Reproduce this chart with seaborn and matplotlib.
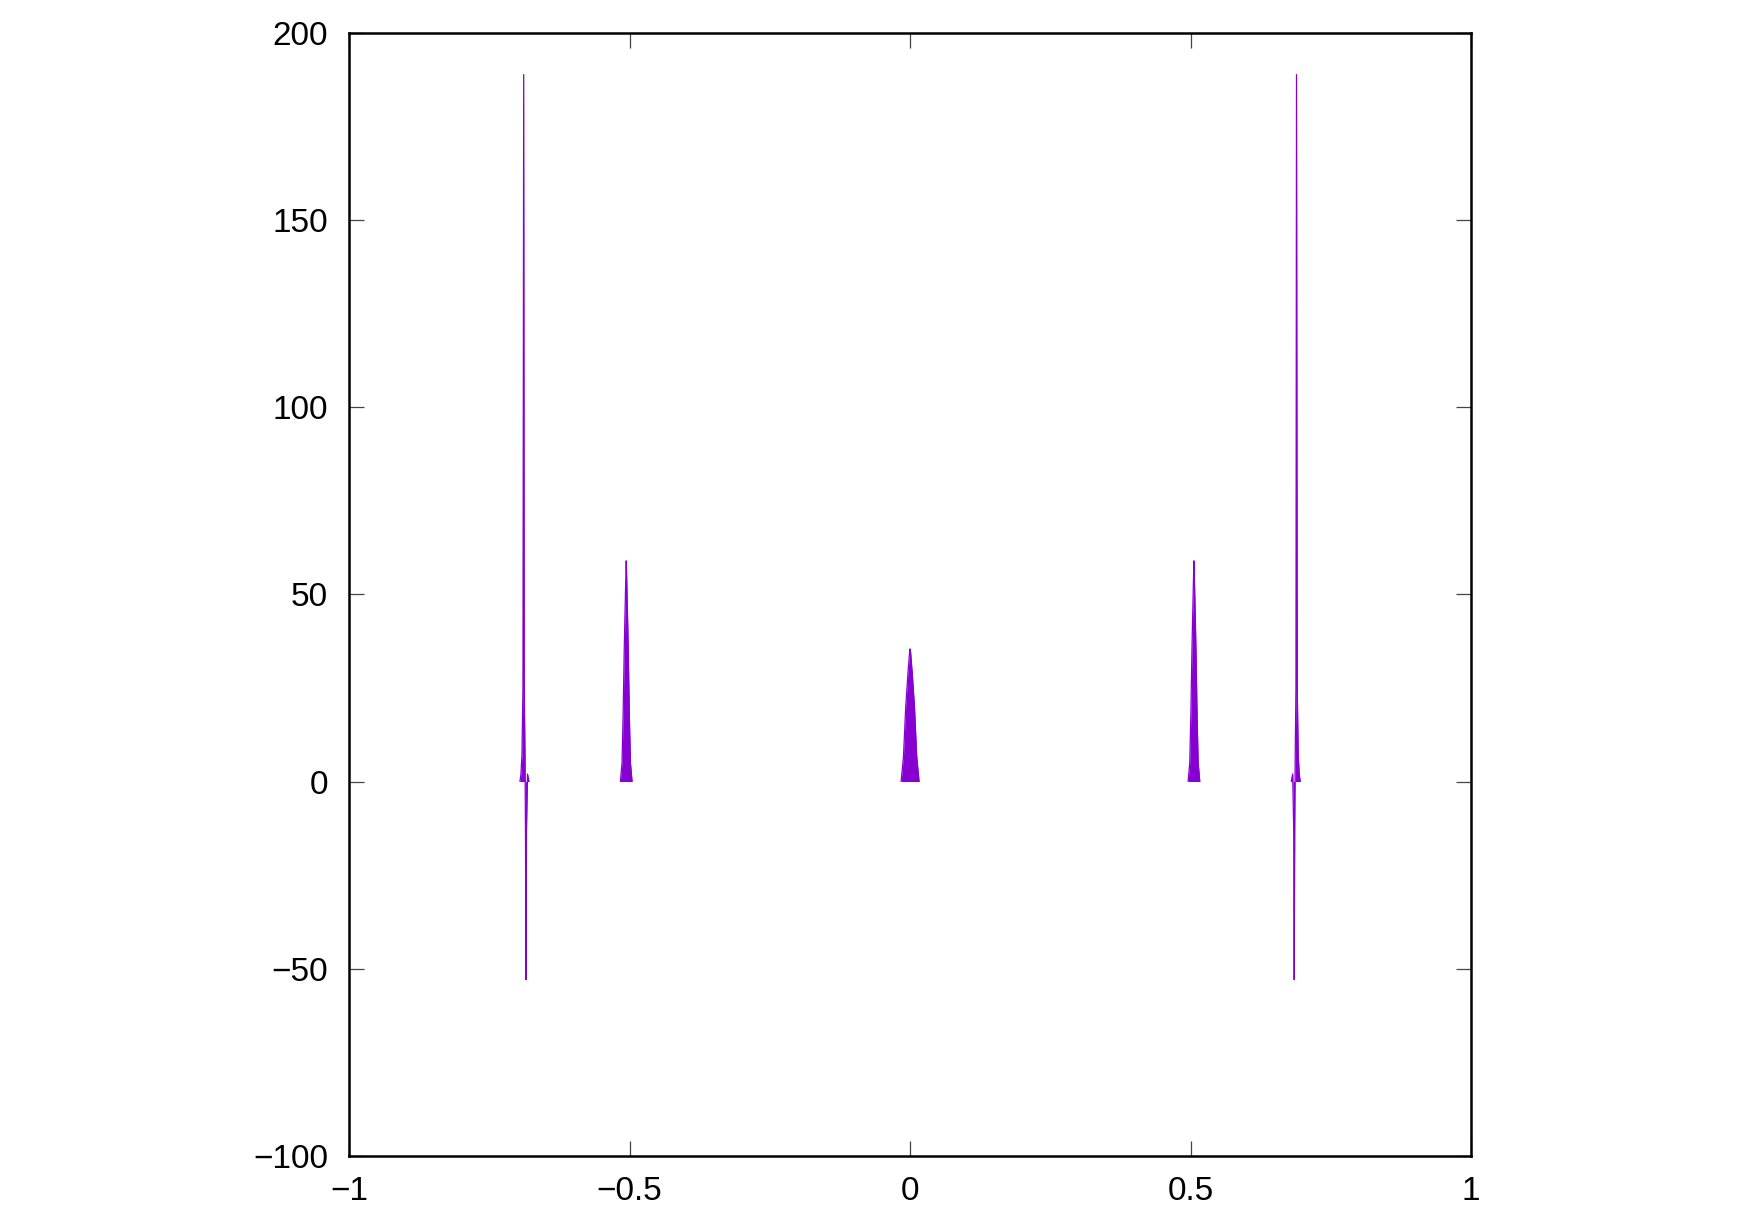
import matplotlib
matplotlib.use("Agg")
import matplotlib.pyplot as plt
import seaborn as sns
import pandas as pd

# ---- data ----
# left outer spike (positive and negative lobes)
outer_left_x = [-0.6954, -0.6937, -0.6919, -0.6901, -0.6888, -0.6878, -0.6865,
                -0.6856, -0.6847, -0.6838, -0.6820, -0.6794]
outer_left_y = [0, 2, 7, 25, 189, 25, 7, -13, -53, -13, 2, 0]
# left middle spike
mid_left_x = [-0.5164, -0.5135, -0.5116, -0.5096, -0.5085, -0.5061, -0.5059,
              -0.5035, -0.5024, -0.5004, -0.4985, -0.4956]
mid_left_y = [0, 5, 17.4, 35, 43, 59, 59, 43, 35, 17.4, 5, 0]
# centre spike
centre_x = [-0.0160, -0.0118, -0.0078, -0.0038, -0.0004, 0.0004, 0.0038,
            0.0078, 0.0118, 0.0160]
centre_y = [0, 6.7, 20, 29, 35.4, 35.4, 29, 20, 6.7, 0]
# right middle spike
mid_right_x = [0.4956, 0.4985, 0.5004, 0.5024, 0.5035, 0.5059, 0.5061, 0.5085,
               0.5096, 0.5116, 0.5135, 0.5164]
mid_right_y = [0, 5, 17.4, 35, 43, 59, 59, 43, 35, 17.4, 5, 0]
# right outer spike
outer_right_x = [0.6794, 0.6820, 0.6838, 0.6847, 0.6856, 0.6865, 0.6878,
                 0.6888, 0.6901, 0.6919, 0.6937, 0.6954]
outer_right_y = [0, 2, -13, -53, -13, 7, 25, 189, 25, 7, 2, 0]

x_ticks = [-1, -0.5, 0, 0.5, 1]
x_tick_labels = ["\u22121", "\u22120.5", "0", "0.5", "1"]
y_ticks = [-100, -50, 0, 50, 100, 150, 200]
y_tick_labels = ["\u2212100", "\u221250", "0", "50", "100", "150", "200"]

spikes = [
    (outer_left_x, outer_left_y),
    (mid_left_x, mid_left_y),
    (centre_x, centre_y),
    (mid_right_x, mid_right_y),
    (outer_right_x, outer_right_y),
]

# ---- drawing ----
sns.set_theme(style="white")
plt.rcParams["font.family"] = ["Liberation Sans", "DejaVu Sans"]

color = "#8600d2"

fig = plt.figure(figsize=(17.49, 12.25), dpi=100)
ax = fig.add_axes([0.1996, 0.0567, 0.6415, 0.9160])

for i, (xs, ys) in enumerate(spikes):
    df = pd.DataFrame({"x": xs, "y": ys})
    ax.fill_between(df["x"], df["y"], 0, color=color, linewidth=0)
    sns.lineplot(data=df, x="x", y="y", ax=ax, sort=False, estimator=None,
                 color=color, linewidth=0.9)

ax.set_xlim(-1, 1)
ax.set_ylim(-100, 200)
ax.set_xticks(x_ticks)
ax.set_xticklabels(x_tick_labels)
ax.set_yticks(y_ticks)
ax.set_yticklabels(y_tick_labels)
ax.set_xlabel("")
ax.set_ylabel("")

for s in ax.spines.values():
    s.set_visible(True)
    s.set_color("black")
    s.set_linewidth(1.8)

ax.tick_params(axis="both", which="major", direction="in", length=10.8,
               width=0.9, color="#444444", labelsize=24, labelcolor="black",
               top=True, right=True, bottom=True, left=True)
ax.tick_params(axis="x", pad=15)
ax.tick_params(axis="y", pad=15)
ax.grid(False)
ax.set_facecolor("white")
fig.patch.set_facecolor("white")

fig.savefig("out.png", dpi=100)
